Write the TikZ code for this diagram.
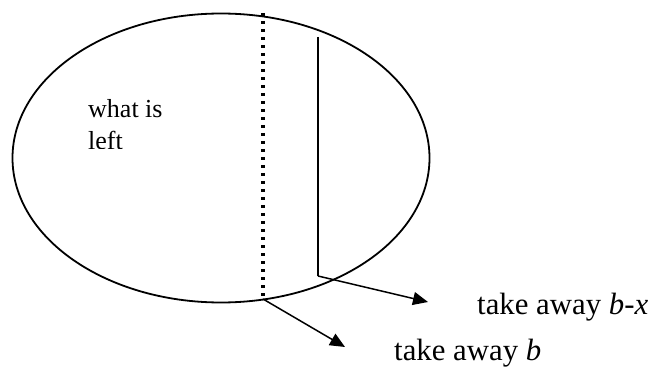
\documentclass[tikz,border=0pt]{standalone}
\usepackage{fontspec}
\setmainfont{Liberation Serif}
\usetikzlibrary{arrows.meta, positioning}

\tikzset{
  leader/.style={line width=1.5pt, -{Triangle[length=15pt, width=13pt]}},
  takeaway/.style={anchor=west, inner sep=0pt, font=\fontsize{30.8}{36}\selectfont}
}

\begin{document}
\begin{tikzpicture}[x=1pt, y=-1pt]
    \useasboundingbox (0,0) rectangle (657,369);

    \coordinate (C) at (221,158);
    \coordinate (cutT) at (263,13);
    \coordinate (cutB) at (263,299);
    \coordinate (barT) at (318,37);
    \coordinate (barB) at (318,276);
    \coordinate (tipX) at (428,302);
    \coordinate (tipB) at (345,347);

    \draw[line width=1.8pt] (C) ellipse [x radius=208.5, y radius=144.5];
    \draw[line width=3.3pt, dash pattern=on 3.3pt off 4.7pt] (cutT) -- (cutB);
    \draw[line width=1.3pt] (barT) -- (barB);

    % labels
    \begin{scope}
        \clip (80,90) rectangle (200,148.6);
        \node[anchor=north west, inner sep=0pt, align=left,
              font=\fontsize{26}{32}\selectfont] (left) at (88,99) {what is\\left};
    \end{scope}
    \node[takeaway] (awayX) at (477,307) {take away \textit{b}-\textit{x}};
    \node[takeaway] (awayB) at (394,353) {take away \textit{b}};

    \draw[leader] (barB) -- (tipX);
    \draw[leader] (cutB) -- (tipB);
\end{tikzpicture}
\end{document}
